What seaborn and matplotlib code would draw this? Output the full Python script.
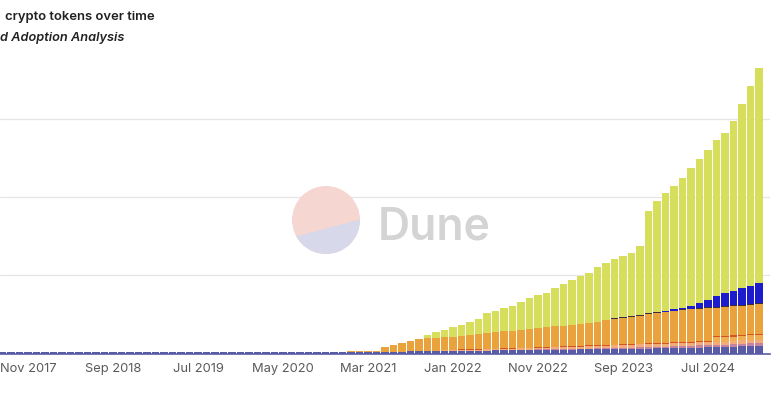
import numpy as np
import pandas as pd
import seaborn as sns
import matplotlib

matplotlib.use("Agg")
import matplotlib.pyplot as plt  # noqa: E402
from matplotlib.patches import Circle, Polygon  # noqa: E402

# ---------------------------------------------------------------------------
# Data (monthly, grid step = 80 units)
# ---------------------------------------------------------------------------
months = pd.date_range("2017-08-01", "2025-01-01", freq="MS")

slate_start = "2017-08"
slate = [1.5, 1.5, 1.5, 1.5, 1.5, 1.5, 1.5, 1.5, 1.5, 1.5,
         1.5, 1.5, 1.5, 1.5, 1.5, 1.5, 1.5, 1.5, 1.5, 1.5,
         1.5, 1.5, 1.5, 1.5, 1.5, 1.5, 1.5, 1.5, 1.5, 1.5,
         1.5, 1.5, 1.5, 1.5, 1.5, 1.5, 1.5, 1.5, 1.5, 1.5,
         1.5, 1.7, 1.7, 1.8, 1.8, 1.9, 2.0, 2.0, 2.1, 2.2,
         2.3, 2.4, 2.5, 2.6, 2.7, 2.8, 2.9, 3.0, 3.1, 3.2,
         3.3, 3.4, 3.5, 3.6, 3.7, 3.8, 3.9, 4.0, 4.1, 4.3,
         4.4, 4.5, 4.6, 4.7, 4.8, 5.0, 5.1, 5.3, 5.4, 5.6,
         5.8, 6.0, 6.1, 6.3, 6.5, 6.6, 6.7, 7.4, 7.6, 7.8]

mauve_start = "2022-08"
mauve = [0.3, 0.4, 0.4, 0.5, 0.5, 0.6, 0.6, 0.7, 0.8, 0.8,
         0.9, 1.0, 1.1, 1.2, 1.3, 1.4, 1.5, 1.6, 1.7, 1.8,
         1.9, 2.0, 2.1, 2.2, 2.3, 2.4, 2.5, 2.6, 2.7, 2.8]

peach_start = "2021-10"
peach = [0.2, 0.4, 0.6, 0.8, 0.9, 1.0, 1.1, 1.2, 1.3, 1.4,
         1.4, 1.5, 1.6, 1.7, 1.8, 1.9, 2.0, 2.1, 2.2, 2.3,
         2.4, 2.5, 2.6, 2.6, 2.7, 2.8, 2.8, 2.9, 2.9, 3.0,
         3.0, 3.0, 3.1, 3.1, 3.1, 3.2, 3.2, 3.3, 3.3, 3.4]

light_orange_start = "2024-08"
light_orange = [4.5, 4.6, 4.7, 4.8, 4.9, 5.0]

red_start = "2022-01"
red = [0.6, 0.6, 0.6, 0.6, 0.6, 0.6, 0.6, 0.6, 0.6, 0.6,
       0.6, 0.6, 0.8, 0.8, 0.8, 0.8, 0.8, 0.8, 0.8, 0.8,
       0.8, 0.8, 1.0, 1.0, 1.0, 1.0, 1.0, 1.0, 1.0, 1.0,
       1.0, 1.3, 1.3, 1.3, 1.3, 1.3, 1.3]

orange_start = "2020-05"
orange = [0.1, 0.1, 0.2, 0.2, 0.2, 0.3, 0.3, 0.4,
          0.5, 0.7, 0.8, 1.2, 4.3, 6.5, 8.8, 10.7, 12.3,
          13.3, 13.5, 13.7, 13.3, 13.6, 14.1, 14.9, 15.7, 16.5, 17.3,
          17.9, 18.6, 19.4, 20.1, 20.4, 20.9, 21.2, 21.9, 22.6, 23.3,
          24.0, 25.2, 26.4, 27.2, 27.9, 28.3, 30.1, 30.7, 31.0, 31.6,
          32.8, 33.0, 33.2, 33.9, 29.3, 29.4, 30.1, 29.6, 30.2, 30.2]

dark_start = "2023-08"
dark = [0.8, 0.8, 0.8, 0.8, 0.8, 0.8, 0.8, 0.8, 0.8,
        0.8, 0.8, 0.8, 0.8, 0.8, 0.8, 0.8, 0.8, 0.8]

blue_start = "2024-01"
blue = [0.5, 1.0, 1.5, 1.6, 2.7, 5.2, 7.2, 10.7, 13.2, 14.2, 16.9, 18.0, 20.6]

yellow_start = "2021-09"
yellow = [0.7,
          2.8, 5.6, 7.4, 9.4, 10.9, 13.3, 15.3, 20.4, 21.5, 23.5,
          25.5, 28.6, 31.7, 33.7, 35.3, 39.3, 42.9, 46.0, 49.1, 51.1,
          56.2, 58.8, 60.5, 62.5, 64.6, 70.7, 104.4, 113.1, 120.3, 125.9,
          132.9, 141.0, 147.2, 153.3, 159.4, 163.5, 173.7, 188.0, 204.4, 219.7]

# bottom -> top
series = [
    ("slate", slate_start, slate),
    ("mauve", mauve_start, mauve),
    ("peach", peach_start, peach),
    ("light_orange", light_orange_start, light_orange),
    ("red", red_start, red),
    ("orange", orange_start, orange),
    ("dark", dark_start, dark),
    ("blue", blue_start, blue),
    ("yellow", yellow_start, yellow),
]

colors = {
    "slate": "#5a5ba6",
    "mauve": "#c4849f",
    "peach": "#f3ab7c",
    "light_orange": "#efae52",
    "red": "#d5541d",
    "orange": "#e9a23c",
    "dark": "#3b2d3f",
    "blue": "#1c1ccc",
    "yellow": "#d6de5b",
}

# ---------------------------------------------------------------------------
# Table
# ---------------------------------------------------------------------------
df = pd.DataFrame(index=months)
for name, start, vals in series:
    idx = pd.date_range(start, periods=len(vals), freq="MS")
    df[name] = pd.Series(vals, index=idx).reindex(months, fill_value=0.0)
cum = df.cumsum(axis=1)

# ---------------------------------------------------------------------------
# Plot
# ---------------------------------------------------------------------------
sns.set_theme(style="white")
plt.rcParams["font.family"] = ["Inter", "DejaVu Sans"]

W, H = 780, 398
fig = plt.figure(figsize=(W / 100, H / 100), dpi=100)
ax = fig.add_axes([0, (H - 353.5) / H, 770 / W, 293.5 / H])

xpos = np.arange(len(months))
for name, _, _ in reversed(series):
    sns.barplot(x=xpos, y=cum[name].values, color=colors[name],
                saturation=1, width=0.85, linewidth=0, errorbar=None, ax=ax)

ax.set_xlim(-0.294, 90.29)
ax.set_ylim(0, 300)
ax.set_yticks([80, 160, 240])
ax.yaxis.grid(True, color="#e6e6e6", linewidth=0.9)
ax.set_axisbelow(True)
ax.tick_params(axis="y", left=False, labelleft=False)

tick_pos = [3, 13, 23, 33, 43, 53, 63, 73, 83]
ax.set_xticks(tick_pos)
ax.set_xticklabels([months[i].strftime("%b %Y") for i in tick_pos],
                   fontsize=9.3, color="#5a5a5a")
ax.tick_params(axis="x", length=0, pad=7)
ax.set_xlabel("")
ax.set_ylabel("")
for side in ["top", "left", "right"]:
    ax.spines[side].set_visible(False)
ax.spines["bottom"].set_color("#5a5ba6")
ax.spines["bottom"].set_linewidth(1.2)

# titles (cropped in the source screenshot)
fig.text(5 / W, 1 - 20 / H, "crypto tokens over time", fontsize=9.4,
         fontweight="semibold", color="#222222", va="baseline")
fig.text(0, 1 - 41 / H, "d Adoption Analysis", fontsize=9.2,
         fontweight="semibold", fontstyle="italic", color="#222222", va="baseline")

# Dune watermark
wm = fig.add_axes([0, 0, 1, 1], zorder=5)
wm.set_xlim(0, W)
wm.set_ylim(H, 0)
wm.axis("off")
wm.patch.set_alpha(0)
disc = Circle((326, 220), 34, facecolor="#f5d6d0", edgecolor="none")
wm.add_patch(disc)
low = Polygon([(280, 240.5), (372, 216.5), (372, 262), (280, 262)],
              closed=True, facecolor="#d7d8ea", edgecolor="none")
wm.add_patch(low)
low.set_clip_path(disc)
wm.text(378, 239, "Dune", fontsize=32, fontweight="semibold",
        color="#d4d4d4", va="baseline", ha="left")

fig.savefig("out.png", dpi=100)
